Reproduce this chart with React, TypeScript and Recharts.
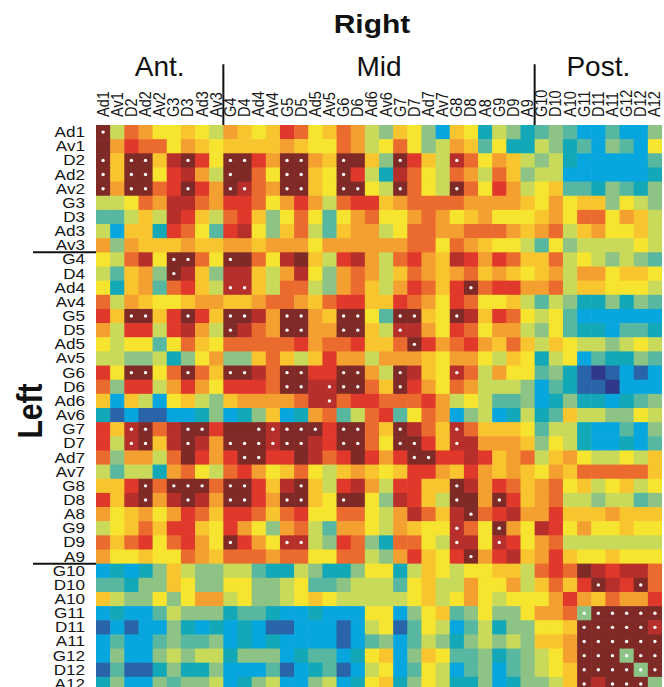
import React from 'react';
import { ScatterChart, Scatter, XAxis, YAxis, ReferenceLine } from 'recharts';

// Region labels (same order on both axes)
const labels = ['Ad1','Av1','D2','Ad2','Av2','G3','D3','Ad3','Av3','G4','D4','Ad4','Av4','G5','D5','Ad5','Av5','G6','D6','Ad6','Av6','G7','D7','Ad7','Av7','G8','D8','A8','G9','D9','A9','G10','D10','A10','G11','D11','A11','G12','D12','A12'];
const groupNames = ['Ant.', 'Mid', 'Post.'];
const groupSizes = [9, 22, 9];

// colour level per cell (0 = lowest / dark blue ... 13 = highest / dark red)
const antRows: number[][] = [
  [13,6,10,9,7,7,8,7,6,9,8,7,8, 11,10,7,8,10,9,6,5,8,7,5,2,8, 7,3,6,5,3,4,5,4,2,2,4,2,2,5],
  [13,9,11,10,10,7,9,8,7,8,8,8,8, 9,8,7,7,10,9,6,7,10,7,5,6,9, 8,4,7,3,3,6,5,3,4,2,5,4,2,7],
  [13,8,13,13,8,12,13,11,7,13,13,11,9, 13,13,9,8,13,13,8,5,13,11,8,6,12, 10,7,9,8,6,5,6,3,2,2,2,2,2,4],
  [13,8,13,13,7,11,12,9,6,13,13,10,7, 13,13,8,7,13,11,6,3,12,10,7,6,10, 9,6,10,8,5,6,6,2,2,2,2,2,2,3],
  [13,9,13,13,10,11,13,11,9,13,12,10,9, 13,13,8,7,13,13,7,6,13,10,7,6,13, 10,7,11,9,6,7,8,4,4,3,5,4,3,5],
  [6,6,7,10,9,12,12,10,9,11,11,10,7, 9,11,9,6,10,11,11,8,9,10,10,10,10, 9,9,9,9,8,7,9,7,8,8,5,7,6,5],
  [4,4,6,8,6,12,11,8,6,10,11,8,5, 7,10,7,4,7,9,10,7,7,9,10,9,7, 8,9,7,7,7,8,9,7,10,10,7,9,8,6],
  [6,2,8,8,3,11,10,7,4,11,12,7,5, 8,10,6,4,8,9,9,6,7,10,10,9,9, 10,10,10,9,8,9,10,6,8,9,7,7,8,6],
  [9,5,9,8,8,8,9,8,8,9,9,8,9, 9,9,7,9,9,9,9,9,9,10,10,7,10, 9,8,7,7,6,4,7,5,6,6,6,6,7,6],
];
const midRows: number[][] = [
  [7,6,10,12,7,13,13,10,7,13,13,10,7, 12,13,8,6,11,12,9,6,10,11,9,8,12, 11,9,11,10,8,8,10,6,7,6,5,6,5,4],
  [6,4,8,9,5,13,12,8,5,12,12,8,6, 9,12,7,5,9,10,9,6,8,10,9,8,9, 10,8,9,8,7,8,9,6,9,9,7,8,8,7],
  [7,3,8,9,4,10,11,8,6,12,12,8,6, 10,10,6,5,9,10,8,6,9,11,10,8,11, 13,10,11,11,9,9,10,6,8,8,7,7,7,6],
  [10,6,9,8,7,7,8,9,9,8,8,9,10, 10,9,8,10,11,11,8,8,11,10,9,7,11, 10,7,7,8,6,4,6,5,3,3,5,3,5,4],
  [11,8,13,13,8,11,13,11,8,13,13,12,9, 13,13,9,8,13,13,7,4,13,13,8,7,13, 12,8,11,10,7,6,7,4,2,2,2,2,2,2],
  [9,6,11,11,6,11,12,9,6,13,12,10,9, 13,13,9,9,13,13,8,6,12,12,9,7,11, 10,7,9,9,6,5,7,4,3,3,2,4,4,3],
  [7,6,7,7,4,7,10,8,7,10,10,10,10, 10,11,9,10,10,11,8,8,10,13,11,9,10, 11,9,8,10,8,6,8,7,6,6,5,6,7,6],
  [6,6,5,5,6,3,5,7,9,5,5,8,10, 8,6,8,11,9,9,6,9,9,9,8,7,9, 9,7,6,8,7,3,6,7,2,4,3,3,5,4],
  [11,7,13,13,7,10,13,10,8,13,13,12,10, 13,13,11,11,13,13,9,6,13,12,8,7,12, 10,6,9,7,7,4,5,3,1,0,1,2,1,2],
  [10,5,11,11,6,9,11,9,7,11,11,11,10, 13,13,12,12,13,13,10,8,13,11,9,7,10, 9,6,6,6,5,2,4,3,1,1,0,2,2,2],
  [8,2,8,6,2,7,8,6,5,8,9,9,9, 9,10,12,12,10,11,11,10,10,10,11,9,6, 7,6,4,4,5,2,3,5,3,3,2,3,4,5],
  [3,1,2,1,1,2,2,3,5,2,3,5,8, 2,3,9,10,4,6,10,11,4,7,10,9,2, 5,6,2,3,6,3,4,8,6,6,5,5,7,6],
  [11,8,12,13,10,12,13,13,11,13,13,13,12, 13,13,13,11,13,13,10,8,13,12,10,8,12, 10,8,8,8,7,4,6,6,3,2,2,4,2,5],
  [11,6,12,13,8,12,13,12,9,13,13,13,12, 13,13,12,11,13,13,10,7,13,13,11,8,12, 12,9,9,9,8,5,7,6,3,2,2,3,2,4],
  [10,5,9,9,6,10,13,11,9,11,13,13,11, 11,13,12,10,11,13,11,9,11,13,13,11,11, 12,11,8,9,10,6,8,9,7,6,6,7,6,8],
  [6,4,6,6,3,9,10,7,6,10,11,9,7, 8,10,7,6,8,9,8,7,8,11,11,9,8, 11,9,8,9,8,7,9,8,10,10,10,10,10,8],
  [8,8,11,13,10,13,13,13,10,13,13,11,8, 12,13,8,6,11,12,9,6,11,11,8,8,13, 12,9,11,10,8,9,10,7,8,6,7,8,6,7],
  [11,8,12,13,9,12,13,12,9,13,13,11,9, 13,13,8,7,13,13,7,5,12,11,8,6,13, 13,9,13,11,8,9,10,6,6,5,6,6,4,5],
  [9,7,8,9,7,9,11,10,8,11,11,10,8, 10,11,7,7,10,10,7,6,9,12,10,8,12, 13,10,11,12,9,9,11,8,8,8,9,8,8,8],
  [6,7,8,10,8,11,11,8,7,11,9,7,5, 9,10,6,4,9,9,7,6,9,8,7,7,12, 10,7,13,9,7,12,11,7,9,7,7,8,7,7],
  [10,8,10,11,7,10,11,9,7,13,11,9,7, 12,12,6,5,11,10,5,3,10,10,7,6,12, 12,7,12,11,7,9,10,6,6,6,6,6,6,6],
  [9,7,7,8,7,7,10,9,8,10,10,10,9, 10,10,7,7,10,10,6,5,9,11,8,7,11, 13,9,11,12,8,9,11,8,7,7,8,7,7,7],
];
const postRows: number[][] = [
  [2,3,2,3,5,8,6,5,5,6,6,4,3, 3,6,5,3,3,5,7,7,3,6,8,7,6, 7,7,8,8,6,10,11,10,13,12,11,12,12,10],
  [4,4,3,5,5,8,7,5,5,7,7,5,5, 6,7,4,4,5,6,6,6,4,7,8,6,6, 9,7,7,9,6,8,10,8,11,13,12,11,13,10],
  [8,6,5,5,7,5,7,9,9,6,7,5,5, 6,7,8,7,6,6,6,6,6,7,8,6,7, 9,7,6,7,7,7,9,11,9,8,10,9,9,11],
  [2,3,2,2,4,6,5,5,5,3,4,4,3, 2,2,3,2,2,2,7,7,2,5,7,8,4, 5,7,5,5,7,9,9,10,5,13,13,13,13,13],
  [1,2,1,2,2,5,3,2,3,2,3,2,1, 1,2,2,2,1,2,6,7,1,4,7,6,2, 4,6,3,5,5,7,7,8,13,13,13,13,13,12],
  [2,4,2,2,4,5,4,4,5,2,3,2,3, 2,2,2,2,1,2,4,5,2,4,6,5,3, 5,6,5,6,5,8,8,9,13,13,13,13,13,13],
  [2,5,2,2,5,6,5,6,6,3,5,5,5, 2,3,4,4,2,3,7,8,2,5,8,7,4, 4,5,3,4,5,6,7,9,13,13,13,5,13,13],
  [1,4,1,1,3,5,3,3,5,2,2,2,4, 1,2,3,4,1,2,6,7,2,4,7,6,2, 4,5,2,4,5,6,7,8,13,13,13,13,5,13],
  [3,5,2,2,5,4,5,5,6,2,3,5,6, 2,2,5,6,2,3,7,8,3,5,7,6,3, 3,5,2,3,5,5,6,8,13,12,13,13,13,5],
];

// significant cells (white dots): column indices per row
const dotCols: number[][] = [
  [0], [], [0,2,3,6,9,10,13,14,17,21,25], [0,2,3,9,13,14,17], [0,2,3,6,9,10,13,14,17,18,21,25],
  [], [], [], [],
  [5,6,9], [5], [9,10,26], [], [2,3,6,9,10,13,14,17,18,21,22,25], [9,13,14,17,18,21], [22], [],
  [2,3,6,9,10,13,14,17,18,21,25], [13,14,16,17,18,21], [16], [],
  [2,3,6,7,11,12,13,14,15,17,18,21,25], [2,3,6,9,10,11,12,13,14,17,18,21,22,25], [10,11,22,23], [],
  [3,5,6,7,9,10,14,25], [3,6,9,10,13,14,17,25,28], [26], [25,28], [9,13,14,25,28], [26],
  [], [35,38], [], [34,35,36,37,38,39], [34,35,36,37,38,39], [34,35,36,37,38,39],
  [34,35,36,37,38,39], [34,35,36,37,38,39], [34,36,37,38],
];

const palette = ['#30388a','#2a64a8','#08a6de','#12a8b7','#58b7a0','#8dc486','#c9da5b','#f6e42f','#f9c52f','#f3a030','#eb6b2f','#e0392b','#b72f2b','#7f2a27'];

const allRows = [...antRows, ...midRows, ...postRows];
const cells = allRows.flatMap((row, r) => row.map((v, c) => ({ x: c, y: r, v, dot: dotCols[r].includes(c) })));
const idx = labels.map((_, i) => i);
const edges = groupSizes.slice(0, -1).map((_, i) => groupSizes.slice(0, i + 1).reduce((a, b) => a + b, 0) - 0.5);
const groupCenters = groupSizes.map((s, i) => groupSizes.slice(0, i).reduce((a, b) => a + b, 0) + s / 2 - 0.5);

const W = 664, H = 700;
const M = { top: 0, right: 2, bottom: 9, left: 0 };
const XH = 125, YW = 96;
const n = labels.length;
const cell = (W - M.left - M.right - YW) / n;
const FONT = '"Liberation Sans", Arial, Helvetica, sans-serif';

const CellShape = (props: any) => {
  const { cx, cy, payload } = props;
  if (cx == null || cy == null) return null;
  return (
    <g>
      <rect x={cx - cell / 2} y={cy - cell / 2} width={cell + 0.6} height={cell + 0.6} fill={palette[payload.v]} />
      {payload.dot && <circle cx={cx} cy={cy} r={1.7} fill="#ffffff" />}
    </g>
  );
};

const ColTick = (props: any) => {
  const { x, payload } = props;
  return (
    <text transform={`translate(${x + 5.5},117) scale(1.1,1) rotate(-90)`} fontSize={14.5} fontFamily={FONT} fill="#151515" textAnchor="start">
      {labels[payload.value]}
    </text>
  );
};

const RowTick = (props: any) => {
  const { y, payload } = props;
  return (
    <text transform={`translate(85,${y + 5}) scale(1.18,1)`} fontSize={14.5} fontFamily={FONT} fill="#151515" textAnchor="end">
      {labels[payload.value]}
    </text>
  );
};

const xOf = (v: number) => M.left + YW + (v + 0.5) * cell;

export default function App() {
  return (
    <div style={{ position: 'absolute', left: 0, top: 0, width: 664, height: 687, overflow: 'hidden', background: '#fff' }}>
      <ScatterChart width={W} height={H} margin={M}>
        <XAxis xAxisId="x" type="number" dataKey="x" orientation="top" domain={[-0.5, n - 0.5]} ticks={idx} interval={0}
          height={XH} axisLine={false} tickLine={false} tick={(p: any) => <ColTick {...p} />} allowDataOverflow />
        <YAxis yAxisId="y" type="number" dataKey="y" domain={[-0.5, n - 0.5]} reversed ticks={idx} interval={0}
          width={YW} axisLine={false} tickLine={false} tick={(p: any) => <RowTick {...p} />} allowDataOverflow />
        <Scatter data={cells} xAxisId="x" yAxisId="y" shape={CellShape} isAnimationActive={false} />
        {idx.map((r) => (
          <ReferenceLine key={'d' + r} xAxisId="x" yAxisId="y" ifOverflow="visible"
            segment={[{ x: n - 1.35, y: r }, { x: n - 0.55, y: r }]} stroke="#333" strokeOpacity={0.7} strokeWidth={2} />
        ))}
        {edges.map((e) => (
          <ReferenceLine key={'v' + e} xAxisId="x" yAxisId="y" ifOverflow="visible"
            segment={[{ x: e, y: -4.8 }, { x: e, y: n - 0.5 }]} stroke="#111" strokeWidth={2} />
        ))}
        {edges.map((e) => (
          <ReferenceLine key={'h' + e} xAxisId="x" yAxisId="y" ifOverflow="visible"
            segment={[{ x: -4.95, y: e }, { x: n - 0.5, y: e }]} stroke="#111" strokeWidth={2} />
        ))}
      </ScatterChart>
      <svg width={664} height={687} style={{ position: 'absolute', left: 0, top: 0, pointerEvents: 'none' }}>
        <text transform="translate(372,33) scale(1.2,1)" textAnchor="middle" fontSize={25} fontWeight="bold" fontFamily={FONT} fill="#111">Right</text>
        <text transform="translate(42,411) scale(1.15,1) rotate(-90)" textAnchor="middle" fontSize={30} fontWeight="bold" fontFamily={FONT} fill="#111">Left</text>
        {groupNames.map((g, i) => (
          <text key={g} x={xOf(groupCenters[i])} y={76} textAnchor="middle" fontSize={28} fontFamily={FONT} fill="#111">{g}</text>
        ))}
      </svg>
    </div>
  );
}
